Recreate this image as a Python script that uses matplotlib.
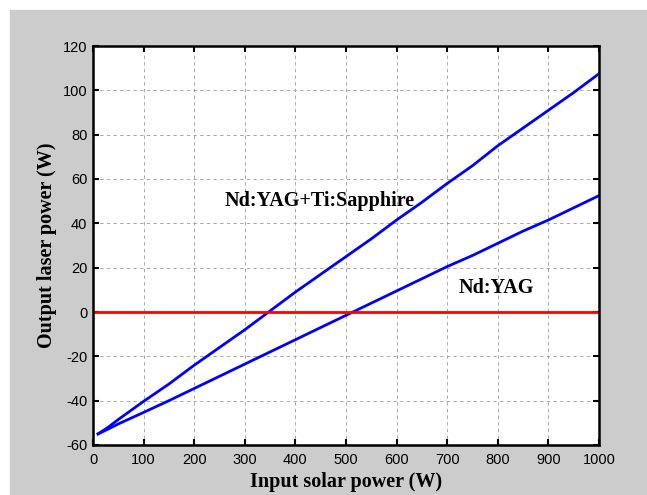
import matplotlib
matplotlib.use("Agg")
import matplotlib.pyplot as plt
from matplotlib.patches import Rectangle

plt.rcParams["axes.unicode_minus"] = False

# input solar power (W)
power = [10, 30, 50, 100, 150, 200, 250, 300, 350, 400, 450, 500,
         550, 600, 650, 700, 750, 800, 850, 900, 950, 1000]
# Nd:YAG + Ti:Sapphire output (W)
hybrid = [-55, -52.0, -48.5, -40.3, -32.5, -24.0, -16.0, -8.0, 0.5, 9.0, 17.0, 25.0,
          33.0, 41.5, 49.5, 58.0, 66.0, 75.0, 83.0, 91.0, 99.0, 107.5]
# Nd:YAG output (W)
ndyag = [-55, -52.8, -50.5, -45.3, -40.0, -34.5, -29.0, -23.5, -18.0, -12.5, -7.0, -1.5,
         4.0, 9.5, 15.0, 20.5, 25.5, 31.0, 36.5, 41.5, 47.0, 52.5]

W, H = 647, 495
fig = plt.figure(figsize=(W / 100, H / 100), dpi=100, facecolor="white")
fig.patches.append(Rectangle((10 / W, 0), 1, (H - 10) / H,
                             transform=fig.transFigure, color="#cccccc", zorder=-10))

ax = fig.add_axes([93 / W, 1 - 445 / H, (599 - 93) / W, (445 - 46) / H])
ax.set_facecolor("white")

ax.plot(power, hybrid, color="#0000ff", lw=2)
ax.plot(power, ndyag, color="#0000ff", lw=2)
ax.axhline(0, color="#ff0000", lw=2)

ax.set_xlim(0, 1000)
ax.set_ylim(-60, 120)
ax.set_xticks(range(0, 1001, 100))
ax.set_yticks(range(-60, 121, 20))
ax.grid(True, color="#999999", linestyle=(0, (4, 4)), lw=0.6)
ax.set_axisbelow(True)
for s in ax.spines.values():
    s.set_linewidth(1.8)
ax.tick_params(direction="in", length=4, width=1.5, top=True, right=True,
               labelsize=10.5)
ax.tick_params(axis="x", pad=6)
ax.tick_params(axis="y", pad=4)
for lbl in ax.get_xticklabels() + ax.get_yticklabels():
    lbl.set_fontfamily("Liberation Sans")

serif = dict(family="Liberation Serif", weight="bold", size=14.5)
ax.set_xlabel("Input solar power (W)", labelpad=3, **serif)
ax.set_ylabel("Output laser power (W)", labelpad=4, **serif)

ax.text(447, 50, "Nd:YAG+Ti:Sapphire", va="center", ha="center", **serif)
ax.text(798, 11, "Nd:YAG", va="center", ha="center", **serif)

fig.savefig("out.png", dpi=100, facecolor=fig.get_facecolor())
